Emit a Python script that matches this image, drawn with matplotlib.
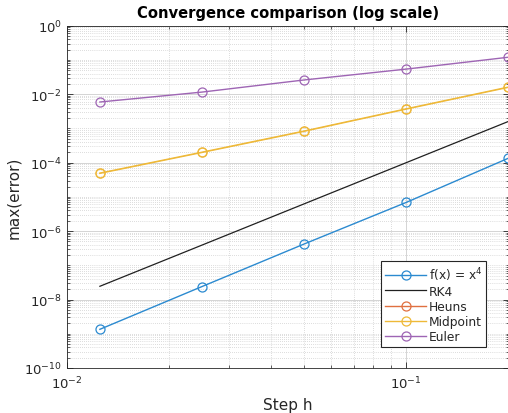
import matplotlib
matplotlib.use("Agg")
import matplotlib.pyplot as plt
from matplotlib.lines import Line2D
from matplotlib.ticker import LogLocator, FixedLocator, NullFormatter, LogFormatterMathtext

h = [0.0125, 0.025, 0.05, 0.1, 0.2]
err_fx4 = [1.35e-9, 2.4e-8, 4.2e-7, 6.9e-6, 1.35e-4]
err_rk4 = [2.44e-8, 3.9e-7, 6.25e-6, 1.0e-4, 1.6e-3]
err_heuns = [4.9e-5, 2.0e-4, 8.3e-4, 3.7e-3, 1.6e-2]
err_midpoint = [4.9e-5, 2.0e-4, 8.3e-4, 3.7e-3, 1.6e-2]
err_euler = [5.9e-3, 1.15e-2, 2.6e-2, 5.4e-2, 0.12]
labels = ["f(x) = x$^4$", "RK4", "Heuns", "Midpoint", "Euler"]

c_blue = "#2B8AD0"
c_orange = "#E07040"
c_yellow = "#EEB938"
c_purple = "#9E65B4"
c_black = "#202020"
axcol = "#262626"

plt.rcParams['font.family'] = ['DejaVu Sans']
fig = plt.figure(figsize=(5.08, 4.14), dpi=100)
W, H = 508, 414
left, right, top, bottom = 67, 508.5, 26.7, 369
ax = fig.add_axes([left / W, 1 - bottom / H, (right - left) / W, (bottom - top) / H])

mk = dict(marker='o', markersize=6.5, markerfacecolor='none', markeredgewidth=0.9, linewidth=1.0)
ax.plot(h, err_fx4, color=c_blue, **mk)
ax.plot(h, err_rk4, color=c_black, linewidth=0.9)
ax.plot(h, err_heuns, color=c_orange, marker='o', markersize=6.5, markerfacecolor='none',
        markeredgewidth=0.3, linewidth=0.3, zorder=1.9)
ax.plot(h, err_midpoint, color=c_yellow, marker='o', markersize=6.5, markerfacecolor='none',
        markeredgewidth=1.1, linewidth=1.2)
ax.plot(h, err_euler, color=c_purple, **mk)

ax.set_xscale('log')
ax.set_yscale('log')
ax.set_xlim(0.01, 0.2)
ax.set_ylim(1e-10, 1)

ax.xaxis.set_major_locator(FixedLocator([0.01, 0.1]))
ax.xaxis.set_major_formatter(LogFormatterMathtext())
ax.xaxis.set_minor_locator(LogLocator(base=10, subs=range(2, 10), numticks=20))
ax.xaxis.set_minor_formatter(NullFormatter())
ax.yaxis.set_major_locator(FixedLocator([1e-10, 1e-8, 1e-6, 1e-4, 1e-2, 1]))
ax.yaxis.set_major_formatter(LogFormatterMathtext())
minors = []
for e in range(-10, 0):
    for s in range(1, 10):
        if s == 1 and e % 2 == 0:
            continue
        minors.append(s * 10.0 ** e)
ax.yaxis.set_minor_locator(FixedLocator(minors))
ax.yaxis.set_minor_formatter(NullFormatter())

ax.grid(True, which='major', color='#d4d4d4', linestyle='-', linewidth=0.7)
ax.grid(True, which='minor', color='#bdbdbd', linestyle=(0, (1, 2)), linewidth=0.5)
ax.set_axisbelow(True)

ax.tick_params(which='both', direction='in', top=True, right=True, colors=axcol,
               labelsize=9.5, labelcolor=axcol)
ax.tick_params(which='major', length=4, width=0.6)
ax.tick_params(which='minor', length=2, width=0.5)
ax.tick_params(axis='x', pad=5)
ax.tick_params(axis='y', pad=3.5)
for sp in ax.spines.values():
    sp.set_color(axcol)
    sp.set_linewidth(0.6)

ax.set_title("Convergence comparison (log scale)", fontsize=10.6, fontweight='bold', color='black', pad=6)
ax.set_xlabel("Step h", fontsize=11, color=axcol, labelpad=4)
ax.set_ylabel("max(error)", fontsize=11, color=axcol, labelpad=2)

handles = [
    Line2D([], [], color=c_blue, marker='o', markersize=6.5, markerfacecolor='none', markeredgewidth=0.9, linewidth=1.0),
    Line2D([], [], color=c_black, linewidth=0.9),
    Line2D([], [], color=c_orange, marker='o', markersize=6.5, markerfacecolor='none', markeredgewidth=0.9, linewidth=1.0),
    Line2D([], [], color=c_yellow, marker='o', markersize=6.5, markerfacecolor='none', markeredgewidth=0.9, linewidth=1.0),
    Line2D([], [], color=c_purple, marker='o', markersize=6.5, markerfacecolor='none', markeredgewidth=0.9, linewidth=1.0),
]
leg = ax.legend(handles, labels, loc='lower right',
                bbox_to_anchor=((486 - left) / (right - left), (bottom - 348) / (bottom - top)),
                fontsize=8.8, frameon=True, fancybox=False, framealpha=1, edgecolor=axcol,
                handlelength=3.4, handletextpad=0.2, borderpad=0.3, labelspacing=0.18, borderaxespad=0)
leg.get_frame().set_linewidth(0.8)
for t in leg.get_texts():
    t.set_color(axcol)

fig.savefig("out.png", dpi=100)
